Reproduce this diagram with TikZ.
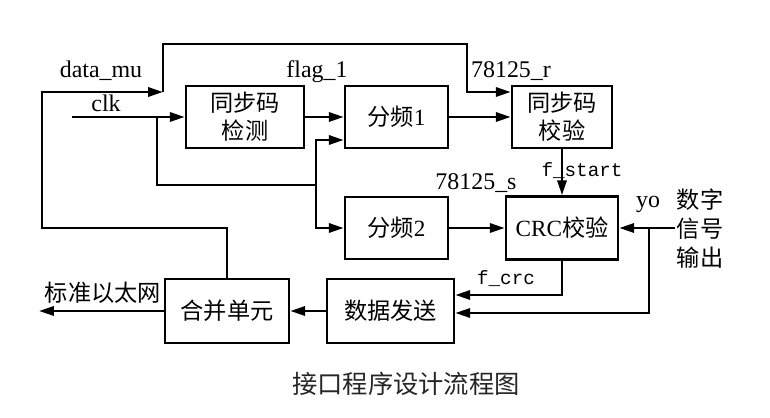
\documentclass[tikz,border=0pt]{standalone}
\usepackage{fontspec}
\setmainfont{Liberation Serif}
\newfontfamily\cjk{Noto Sans CJK SC}
\newfontfamily\monofnt{Liberation Mono}
\usetikzlibrary{positioning, arrows.meta, calc}

\begin{document}
\begin{tikzpicture}[
        x=0.025cm, y=-0.025cm,
        % --- STILURI ---
        % 1. Blocurile de procesare
        block/.style={
                draw=black,
                line width=1.8pt,
                align=center,
                inner sep=0pt,
                font=\cjk\fontsize{16.5}{20}\selectfont
            },
        % 2. Legaturile (cu si fara sageata)
        wire/.style={
                line width=1.8pt
            },
        arr/.style={
                wire,
                -{Triangle[length=10.5pt,width=6.5pt]}
            },
        % 3. Numele semnalelor
        sig/.style={
                font=\fontsize{17}{20}\selectfont,
                inner sep=0pt,
                anchor=base
            },
        bit/.style={
                font=\monofnt\fontsize{13.7}{16}\selectfont,
                inner sep=0pt,
                anchor=base
            },
        note/.style={
                font=\cjk\fontsize{16.5}{20.6}\selectfont,
                inner sep=0pt,
                align=center
            }
    ]
    \useasboundingbox (0,0) rectangle (770,418);

    % 1. Blocurile
    \node[block, minimum width=2.95cm, minimum height=1.55cm] (sync) at (245,117) {同步码\\检测};
    \node[block, minimum width=2.575cm, minimum height=1.55cm] (div1) at (396.5,117) {分频{\rmfamily 1}};
    \node[block, minimum width=2.5cm, minimum height=1.55cm] (verify) at (562,117) {同步码\\校验};
    \node[block, minimum width=2.575cm, minimum height=1.55cm] (div2) at (396.5,228) {分频{\rmfamily 2}};
    \node[block, minimum width=2.8cm, minimum height=1.575cm] (crc) at (562,228) {{\rmfamily CRC}校验};
    \node[block, minimum width=3.175cm, minimum height=1.6cm] (send) at (390.5,311) {数据发送};
    \node[block, minimum width=3.1cm, minimum height=1.6cm] (merge) at (227,311) {合并单元};

    % 2. Puncte de intrare / iesire
    \coordinate (mu) at (163,92);
    \coordinate (fb) at (42,228);
    \coordinate (top) at (467,44);
    \coordinate (clkin) at (72,117);
    \coordinate (clkbr) at (157,117);
    \coordinate (bus) at (316,185);
    \coordinate (yoin) at (675,228);
    \coordinate (yobr) at (649,228);
    \coordinate (ethout) at (39,311);

    % 3. data_mu (bucla de sus)
    \draw[arr] (merge.north) |- (fb) |- (mu);
    \draw[arr] (mu) |- (top) |- (verify.west |- mu);

    % 4. clk
    \draw[arr] (clkin) -- (sync);
    \draw[wire] (clkbr) |- (bus);
    \draw[arr] (bus) |- ($(div1.west)+(0,23)$);
    \draw[arr] (bus) |- (div2.west);

    % 5. Lantul principal
    \draw[arr] (sync) -- (div1);
    \draw[arr] (div1) -- (verify);
    \draw[arr] (verify) -- (crc);
    \draw[arr] (div2) -- (crc);
    \draw[arr] (crc.south) |- ($(send.east)+(0,-16)$);
    \draw[arr] (send) -- (merge);
    \draw[arr] (merge) -- (ethout);

    % 6. yo
    \draw[arr] (yoin) -- (crc.east |- yoin);
    \draw[arr] (yobr) |- ($(send.east)+(0,2)$);

    % 7. Etichete
    \node[sig] (lmu) at (101,78) {data\_mu};
    \node[sig] (lclk) at (106,112) {clk};
    \node[sig] (lflag) at (317,78) {flag\_1};
    \node[sig] (lr) at (511,78) {78125\_r};
    \node[sig] (ls) at (476,190) {78125\_s};
    \node[sig] (lyo) at (648,208) {yo};
    \node[bit] (lstart) at (582,177) {f\_start};
    \node[bit] (lcrc) at (506,285) {f\_crc};
    \node[note] (leth) at (103,293) {标准以太网};
    \node[note] (lout) at (700,229) {数字\\信号\\输出};

    % 8. Titlul
    \node[note, font=\cjk\fontsize{18}{20}\selectfont, text=black!85] (title) at (406,384) {接口程序设计流程图};

\end{tikzpicture}
\end{document}
